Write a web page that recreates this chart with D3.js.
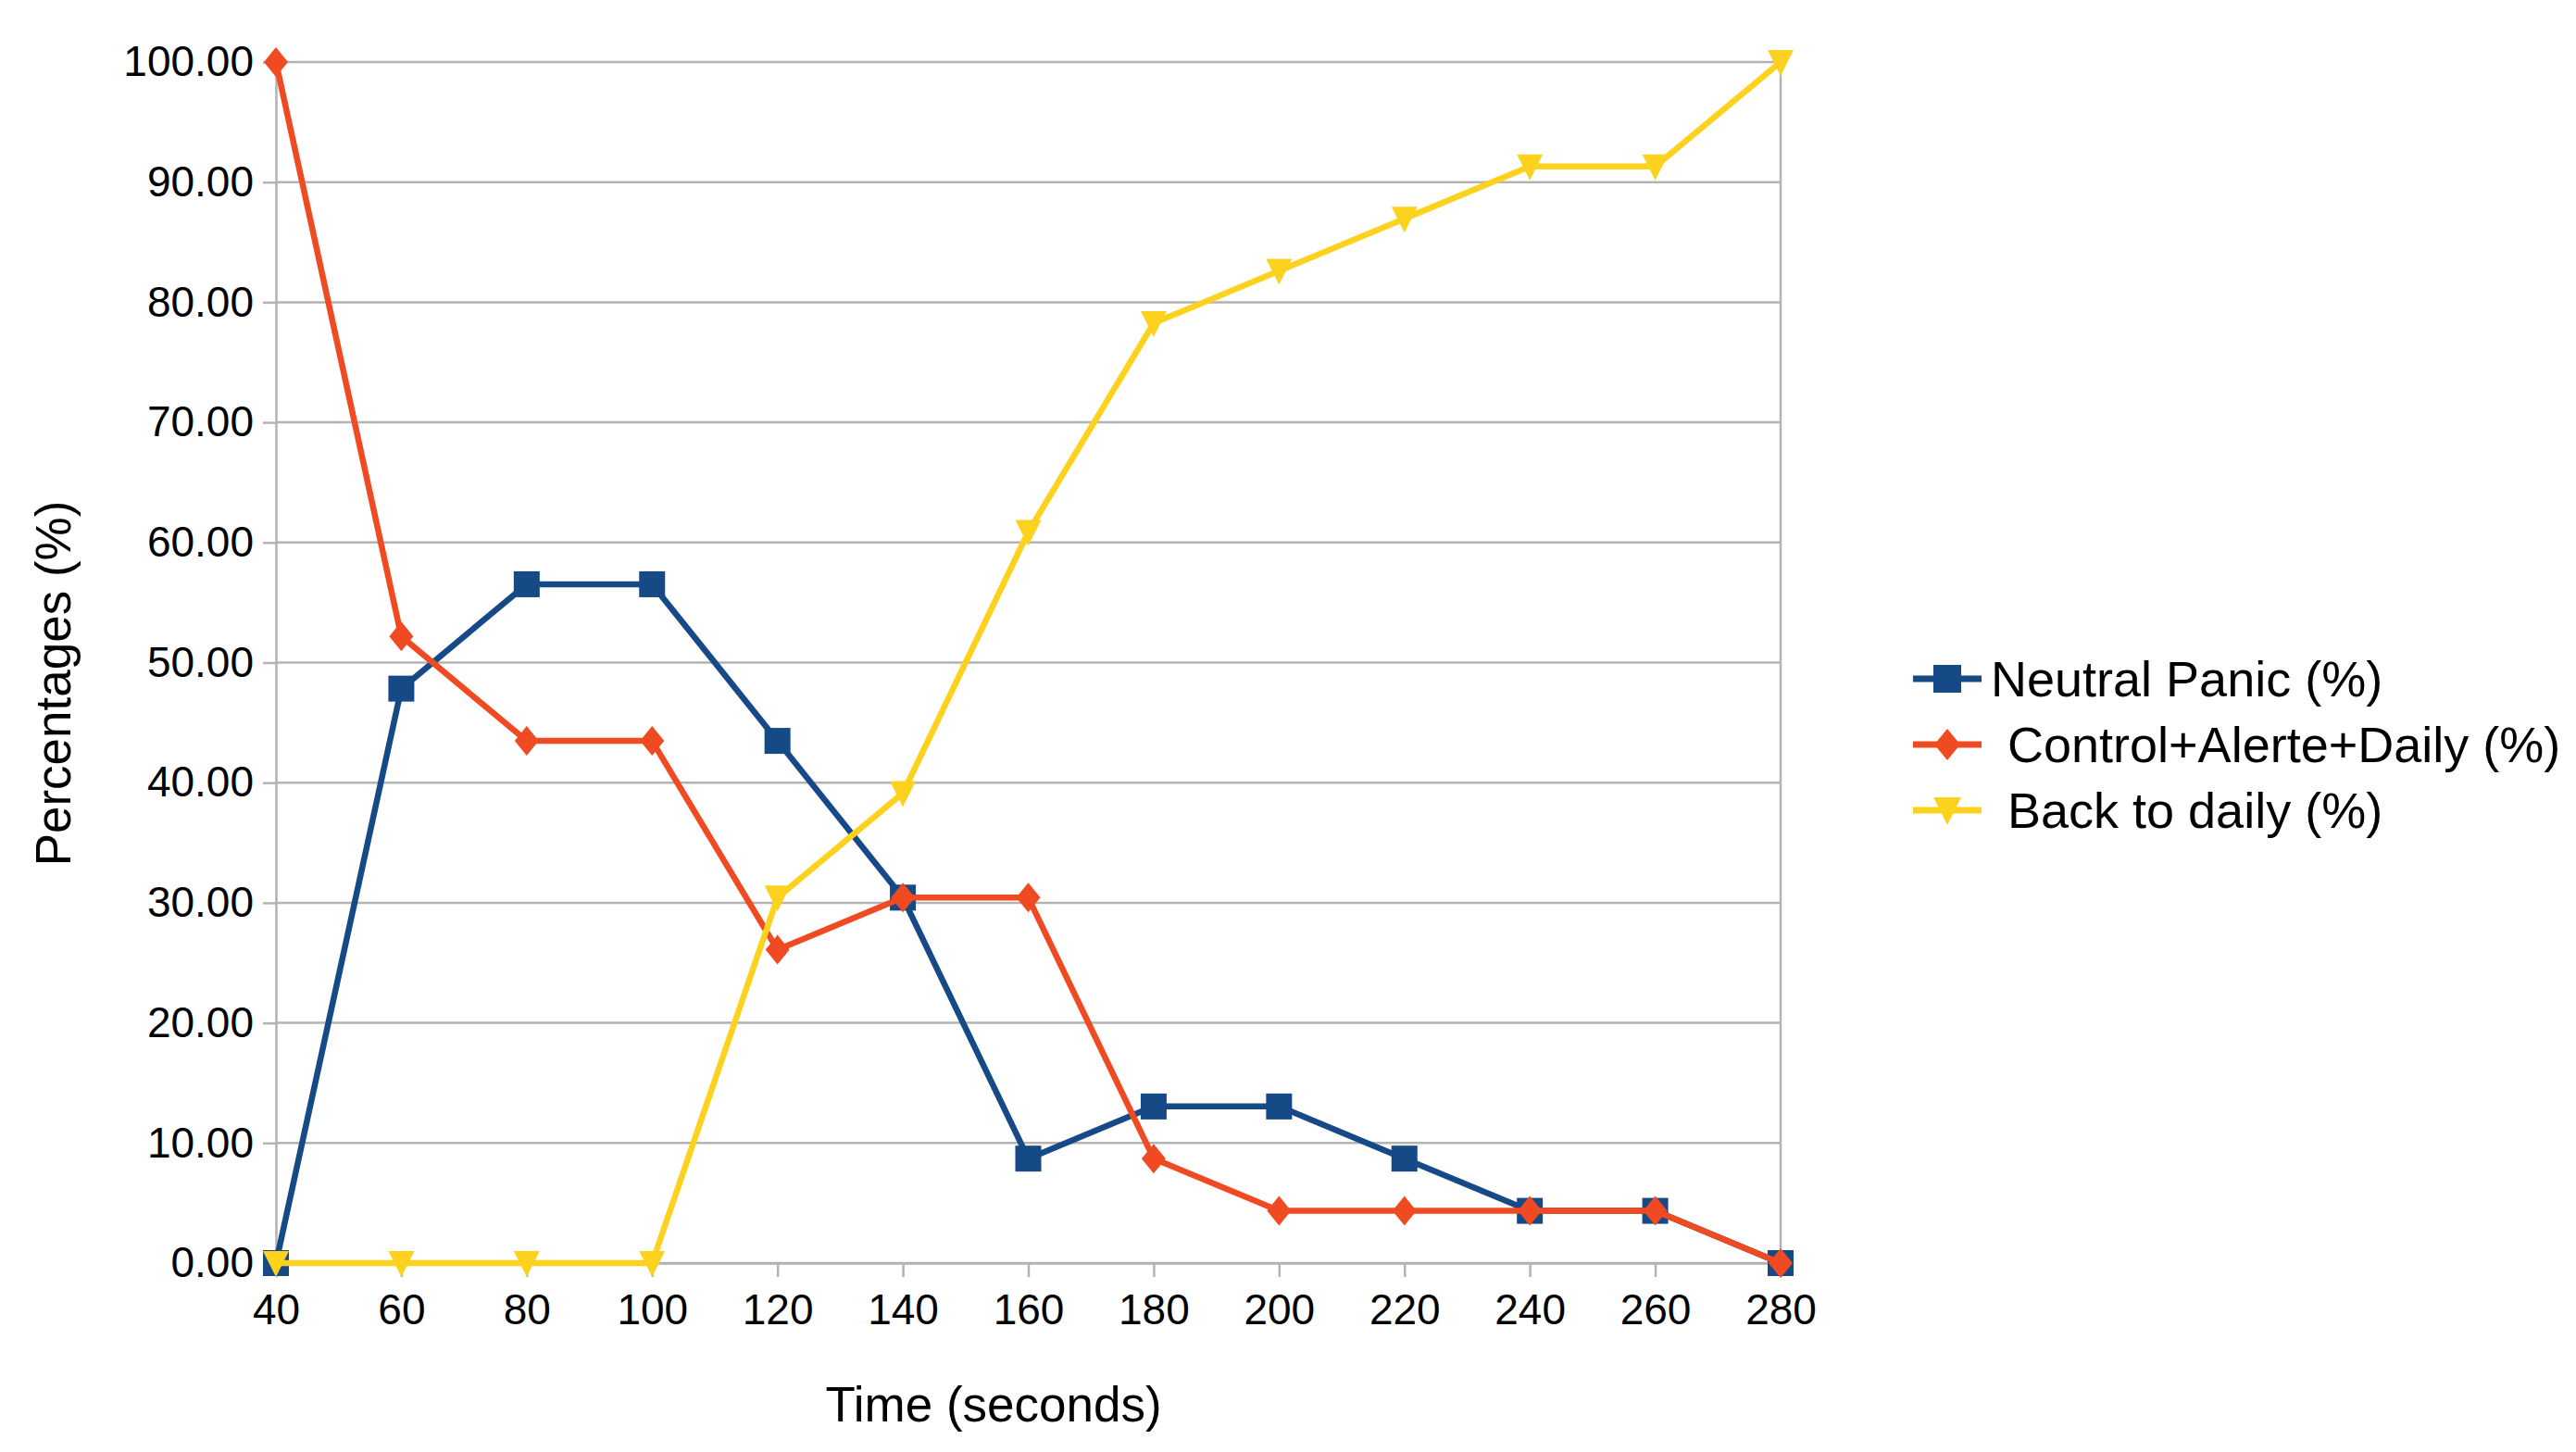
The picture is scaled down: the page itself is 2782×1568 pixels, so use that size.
<!DOCTYPE html>
<html>
<head>
<meta charset="utf-8">
<script src="https://cdn.jsdelivr.net/npm/d3@7"></script>
<style>
  html, body { margin: 0; padding: 0; background: #fff; }
  svg { display: block; font-family: "Liberation Sans", Arial, sans-serif; }
</style>
</head>
<body>
<svg id="chart" width="2782" height="1568"></svg>
<script>
const times = [40, 60, 80, 100, 120, 140, 160, 180, 200, 220, 240, 260, 280];
const neutralPanic = [0, 47.83, 56.52, 56.52, 43.48, 30.43, 8.70, 13.04, 13.04, 8.70, 4.35, 4.35, 0];
const controlAlerteDaily = [100, 52.17, 43.48, 43.48, 26.09, 30.43, 30.43, 8.70, 4.35, 4.35, 4.35, 4.35, 0];
const backToDaily = [0, 0, 0, 0, 30.43, 39.13, 60.87, 78.26, 82.61, 86.96, 91.30, 91.30, 100];
const yTicks = [0, 10, 20, 30, 40, 50, 60, 70, 80, 90, 100];
const seriesNames = ["Neutral Panic (%)", "Control+Alerte+Daily (%)", "Back to daily (%)"];
const seriesColors = ["#154a86", "#f04a22", "#fdd21e"];
const seriesMarkers = ["square", "diamond", "triangle"];

(function () {
const series = [
  { name: seriesNames[0], values: neutralPanic, color: seriesColors[0], marker: seriesMarkers[0] },
  { name: seriesNames[1], values: controlAlerteDaily, color: seriesColors[1], marker: seriesMarkers[1] },
  { name: seriesNames[2], values: backToDaily, color: seriesColors[2], marker: seriesMarkers[2] }
];

const svg = d3.select("#chart");
const pLeft = 298, pRight = 1923, pTop = 67, pBottom = 1364;

const x = d3.scaleLinear().domain([40, 280]).range([pLeft, pRight]);
const y = d3.scaleLinear().domain([0, 100]).range([pBottom, pTop]);

const gridColor = "#b3b3b3";

svg.append("g").selectAll("line").data(yTicks).join("line")
  .attr("x1", pLeft).attr("x2", pRight)
  .attr("y1", d => y(d)).attr("y2", d => y(d))
  .attr("stroke", gridColor).attr("stroke-width", 2.5);

const yAxis = d3.axisLeft(y).tickValues(yTicks).tickFormat(d3.format(".2f")).tickSize(14).tickPadding(10);
const gy = svg.append("g").attr("transform", `translate(${pLeft},0)`).call(yAxis);
gy.select(".domain").attr("stroke", gridColor).attr("stroke-width", 2.5);
gy.selectAll(".tick line").attr("stroke", gridColor).attr("stroke-width", 2.5);
gy.selectAll(".tick text").attr("fill", "#000").attr("font-size", 46)
  .attr("font-family", "'Liberation Sans', Arial, sans-serif");

const xAxis = d3.axisBottom(x).tickValues(times).tickSize(15).tickPadding(18);
const gx = svg.append("g").attr("transform", `translate(0,${pBottom})`).call(xAxis);
gx.select(".domain").attr("stroke", gridColor).attr("stroke-width", 2.5);
gx.selectAll(".tick line").attr("stroke", gridColor).attr("stroke-width", 2.5);
gx.selectAll(".tick text").attr("fill", "#000").attr("font-size", 46)
  .attr("font-family", "'Liberation Sans', Arial, sans-serif");

svg.append("line").attr("x1", pRight).attr("x2", pRight).attr("y1", pTop).attr("y2", pBottom)
  .attr("stroke", gridColor).attr("stroke-width", 2.5);

function markerPath(type, s) {
  const h = s / 2;
  if (type === "square") return `M${-h},${-h}H${h}V${h}H${-h}Z`;
  if (type === "diamond") return `M0,${-h - 2}L${h - 1},0L0,${h + 2}L${-h + 1},0Z`;
  return `M${-h},${-h + 1}H${h}L0,${h + 1}Z`;
}

const line = d3.line().x((d, i) => x(times[i])).y(d => y(d));

series.forEach(s => {
  const g = svg.append("g");
  g.append("path").datum(s.values)
    .attr("d", line).attr("fill", "none")
    .attr("stroke", s.color).attr("stroke-width", 6.5).attr("stroke-linejoin", "round");
  g.selectAll("path.m").data(s.values).join("path").attr("class", "m")
    .attr("transform", (d, i) => `translate(${x(times[i])},${y(d)})`)
    .attr("d", markerPath(s.marker, 28))
    .attr("fill", s.color);
});

svg.append("text").attr("x", 1073).attr("y", 1535).attr("text-anchor", "middle")
  .attr("font-size", 53).attr("fill", "#000").text("Time (seconds)");
svg.append("text").attr("transform", "translate(76,738) rotate(-90)").attr("text-anchor", "middle")
  .attr("font-size", 53).attr("fill", "#000").text("Percentages (%)");

const legendRows = [733, 804, 875];
const legendTextX = [2150, 2168, 2168];
series.forEach((s, i) => {
  const g = svg.append("g").attr("transform", `translate(0,${legendRows[i]})`);
  g.append("line").attr("x1", 2066).attr("x2", 2140).attr("y1", 0).attr("y2", 0)
    .attr("stroke", s.color).attr("stroke-width", 7);
  g.append("path").attr("transform", "translate(2103,0)").attr("d", markerPath(s.marker, 30)).attr("fill", s.color);
  g.append("text").attr("x", legendTextX[i]).attr("y", 0).attr("dy", "0.36em")
    .attr("font-size", 54).attr("fill", "#000").text(s.name);
});
})();
</script>
</body>
</html>
